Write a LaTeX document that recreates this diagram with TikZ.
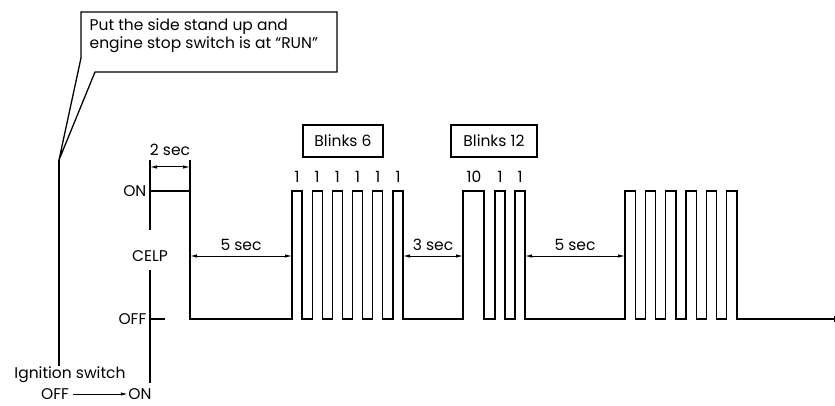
\documentclass[tikz,border=0pt]{standalone}
\usepackage{fontspec}
\setmainfont{Poppins}
\usepackage{tikz}
\usetikzlibrary{arrows.meta,positioning}

\begin{document}
\begin{tikzpicture}[x=1pt, y=-1pt,
  line width=1.3pt, line join=miter,
  lbl/.style={inner sep=0pt, font=\fontsize{15.5}{18}\selectfont},
  blinkbox/.style={draw, line width=1.3pt, minimum width=80pt, minimum height=32pt,
    inner sep=0pt, font=\fontsize{15.5}{18}\selectfont},
  dimarr/.style={{Latex[length=7pt,width=3.5pt]}-{Latex[length=7pt,width=3.5pt]}, line width=1pt},
  arr/.style={-{Latex[length=7pt,width=3.5pt]}, line width=1pt},
]
\useasboundingbox (0,0) rectangle (835,406);

% callout
\coordinate (tip) at (59,160);
\draw (95,72) -- (337,72) -- (337,12) -- (81,12) -- (81,58) -- (tip) -- cycle;
\node[lbl, align=left, anchor=north west] (note) at (89,18)
  {Put the side stand up and\\engine stop switch is at “RUN”};
\coordinate (ign) at (59,366);
\draw (tip) -- (ign);

% axis
\node[lbl, anchor=east] (on)   at (147,191) {ON};
\node[lbl]              (celp) at (150,256) {CELP};
\node[lbl, anchor=east] (off)  at (147,319) {OFF};
\coordinate (axtop) at (150,160);
\coordinate (axbot) at (150,383);
\draw (axtop) -- (150,230);
\draw (150,270) -- (axbot);
\draw (150,319) -- (165,319);

\node[lbl] (ignlbl) at (70,375) {Ignition switch};
\node[lbl] (ignoff) at (55,394) {OFF};
\node[lbl] (ignon)  at (140,394) {ON};
\draw[arr] (ignoff.east) ++(3pt,0) coordinate (ia) -- (ignon.west |- ia);

% signal
\draw (150,191) -- (190,191) -- (190,319)
  foreach \x in {292,312.2,332.4,352.6,372.8,393} {
    -- (\x,319) -- (\x,191) -- ++(10,0) -- ++(0,128)}
  -- (463,319) -- (463,191) -- (484,191) -- (484,319)
  foreach \x in {495,515} {
    -- (\x,319) -- (\x,191) -- ++(10,0) -- ++(0,128)}
  foreach \x in {625,645.3,665.6,685.9,706.2,726.5} {
    -- (\x,319) -- (\x,191) -- ++(10.5,0) -- ++(0,128)}
  -- (834,319);
\draw[line width=0.8pt] (834,316) -- (834,322);

% dimensions
\draw (190,160) -- (190,191);
\draw[dimarr] (150,167) -- node[lbl, above=11pt] (two) {2 sec} (190,167);
\draw[dimarr] (190,256) -- node[lbl, above=5pt] (five) {5 sec} (292,256);
\draw[dimarr] (403,256) -- node[lbl, above=5pt] (three) {3 sec} (463,256);
\draw[dimarr] (525,256) -- node[lbl, above=5pt] (fiveb) {5 sec} (625,256);

% blink counts
\node[blinkbox] (b6)  at (343,141) {Blinks 6};
\node[blinkbox, minimum width=86pt] (b12) at (494,141) {Blinks 12};
\foreach \x in {297,317.2,337.4,357.6,377.8,398,500,520}
  \node[lbl] at (\x,177) {1};
\node[lbl] (ten) at (474,177) {10};
\end{tikzpicture}
\end{document}
